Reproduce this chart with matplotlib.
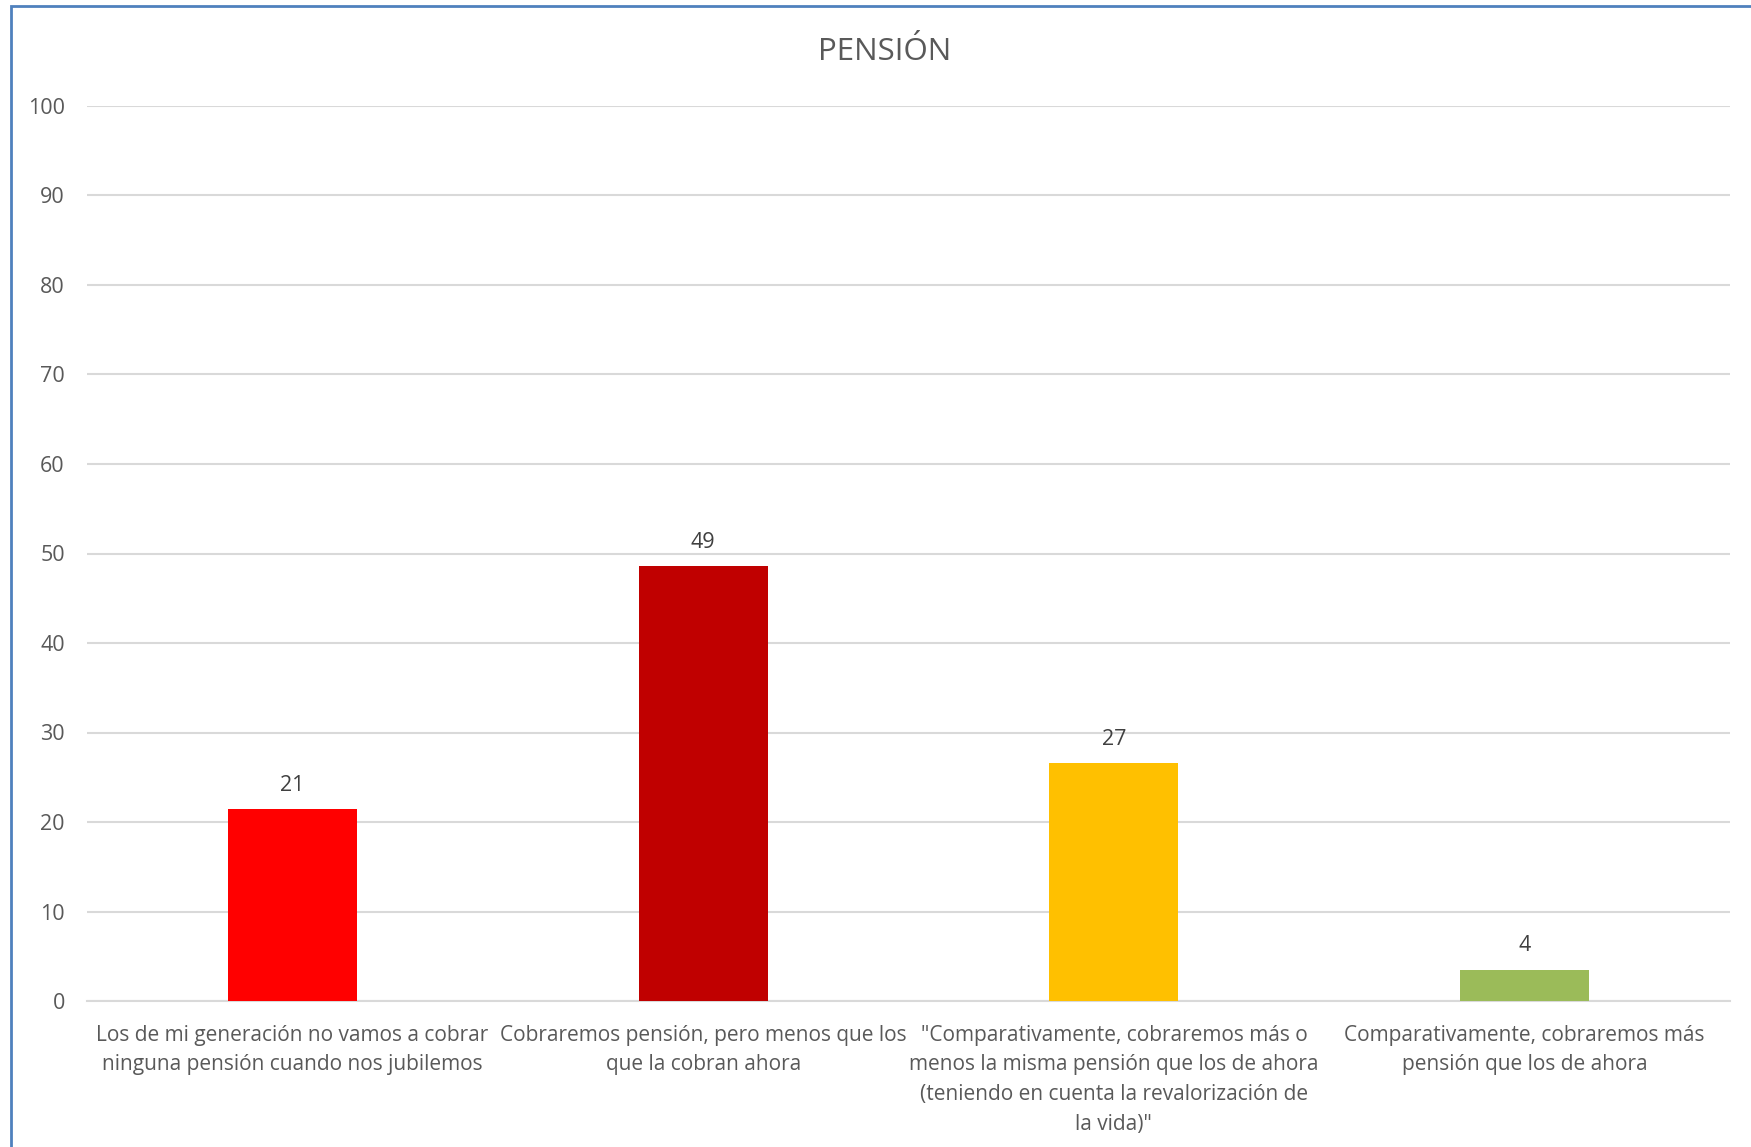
import numpy as np
import matplotlib.pyplot as plt
from matplotlib.patches import Rectangle

# Data
categories = [
    "Los de mi generación no vamos a cobrar\nninguna pensión cuando nos jubilemos",
    "Cobraremos pensión, pero menos que los\nque la cobran ahora",
    "\"Comparativamente, cobraremos más o\nmenos la misma pensión que los de ahora\n(teniendo en cuenta la revalorización de\nla vida)\"",
    "Comparativamente, cobraremos más\npensión que los de ahora",
]
values = [21.4, 48.6, 26.6, 3.5]
colors = ["#FF0000", "#C00000", "#FFC000", "#9BBB59"]
yticks = list(range(0, 101, 10))

plt.rcParams['font.family'] = ['Open Sans', 'DejaVu Sans']

fig = plt.figure(figsize=(17.51, 11.47), dpi=100)
W, H = 1751, 1147
ax = fig.add_axes([87 / W, 1 - 1001 / H, (1730 - 87) / W, (1001 - 106) / H])

x = np.arange(len(categories))
bars = ax.bar(x, values, width=0.314, color=colors, zorder=3)
for b, v in zip(bars, values):
    ax.text(b.get_x() + b.get_width() / 2, v + 1.5, f"{v:.0f}",
            ha="center", va="bottom", fontsize=15.5, color="#404040")

ax.set_xlim(-0.5, len(categories) - 0.5)
ax.set_ylim(0, 100)
ax.set_yticks(yticks)
ax.set_yticklabels([str(t) for t in yticks], fontsize=15.5, color="#595959")
ax.set_xticks(x)
ax.set_xticklabels(categories, fontsize=15, color="#595959", linespacing=1.55, va="top")
ax.tick_params(axis="both", length=0)
ax.tick_params(axis="y", pad=16)
ax.tick_params(axis="x", pad=17)
ax.grid(axis="y", color="#D9D9D9", linewidth=1.5, zorder=0)
for s in ["top", "right", "left"]:
    ax.spines[s].set_visible(False)
ax.spines["bottom"].set_color("#D9D9D9")
ax.spines["bottom"].set_linewidth(1.5)

fig.text(885 / W, 1 - 52 / H, "PENSIÓN", ha="center", va="center",
         fontsize=22.5, color="#595959")

# chart frame (blue border, cropped at right and bottom)
fig.patches.append(Rectangle((11 / W, -0.1), 1.2, 1 - 6 / H + 0.1,
                             transform=fig.transFigure, fill=False,
                             edgecolor="#4F81BD", linewidth=2))

fig.savefig("out.png", dpi=100)
